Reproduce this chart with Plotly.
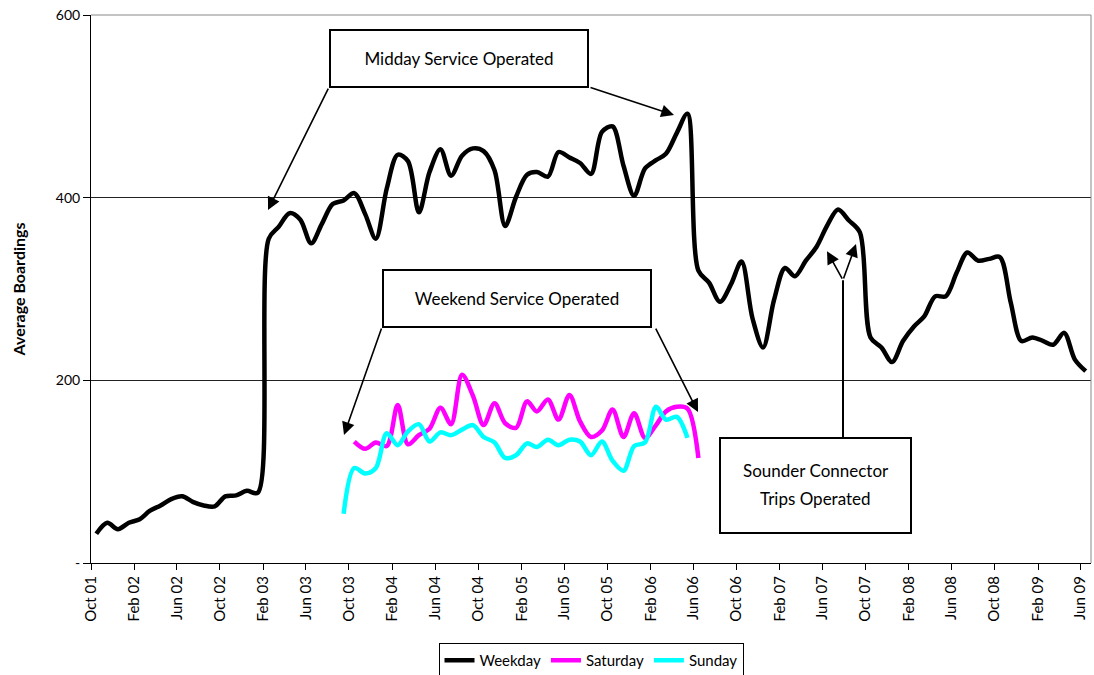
import pandas as pd
import plotly.graph_objects as go

# Monthly average boardings, Oct 2001 - Jun 2009
first_month = "2001-10-01"
n_months = 93

weekday = [32, 44, 37, 44, 48, 57, 63, 70, 73, 67, 63, 62,
           73, 74, 79, 77, 355, 368, 383, 376, 350, 371, 393, 397,
           405, 382, 355, 410, 447, 440, 384, 428, 453, 424, 446, 454,
           451, 430, 369, 401, 425, 428, 423, 450, 444, 438, 426, 472,
           478, 435, 402, 432, 441, 448, 471, 492, 320, 307, 286, 305,
           330, 268, 236, 288, 323, 314, 331, 346, 370, 387, 375, 362,
           247, 236, 220, 243, 259, 270, 292, 292, 318, 340, 331, 333,
           335, 285, 243, 247, 243, 239, 252, 223, 210]

saturday_start = 24  # Oct 2003
saturday = [133, 125, 132, 128, 173, 130, 140, 147, 170, 152, 206, 183,
            151, 175, 153, 148, 177, 166, 179, 157, 184, 155, 138, 145,
            168, 138, 164, 137, 151, 166, 171, 169, 115]

sunday_start = 23  # Sep 2003
sunday = [54, 104, 98, 104, 142, 129, 144, 152, 133, 143, 140, 146,
          151, 138, 132, 115, 118, 131, 127, 135, 129, 135, 133, 118,
          133, 112, 101, 128, 132, 171, 157, 160, 137]

y_tickvals = [0, 200, 400, 600]
y_ticktext = ["-", "200", "400", "600"]

# points sit in the middle of each month
months = pd.date_range(first_month, periods=n_months, freq="MS") + pd.Timedelta(days=15)


def pad(values, start):
    out = [None] * n_months
    out[start:start + len(values)] = values
    return out


FONT = "Lato"
fig = go.Figure()
series = [
    ("Weekday", weekday, "#000000"),
    ("Saturday", pad(saturday, saturday_start), "#FF00FF"),
    ("Sunday", pad(sunday, sunday_start), "#00FFFF"),
]
for name, vals, color in series:
    fig.add_trace(go.Scatter(
        x=months, y=vals, name=name, mode="lines",
        line=dict(color=color, width=4.5, shape="spline", smoothing=0.9),
        connectgaps=False,
    ))

fig.update_layout(
    width=1094, height=675,
    margin=dict(l=91, r=3, t=15, b=112, autoexpand=False),
    paper_bgcolor="white", plot_bgcolor="white",
    font=dict(family=FONT, size=14, color="black"),
    showlegend=True,
    legend=dict(
        orientation="h", x=0.5, xanchor="center", y=-0.146, yanchor="top",
        bordercolor="black", borderwidth=1, font=dict(size=15),
        itemwidth=30, tracegroupgap=0,
    ),
)

fig.update_xaxes(
    type="date",
    range=["2001-10-01", "2009-07-01"],
    tick0="2001-10-01", dtick="M4", tickformat="%b %y",
    tickangle=-90, ticks="outside", ticklen=6, tickcolor="black",
    showline=True, linecolor="black", linewidth=1,
    showgrid=False, zeroline=False,
    tickfont=dict(size=15),
)
fig.update_yaxes(
    range=[0, 600], tickvals=y_tickvals, ticktext=y_ticktext,
    ticks="outside", ticklen=7, tickcolor="black",
    showline=True, linecolor="black", linewidth=1,
    showgrid=True, gridcolor="#222222", gridwidth=1, zeroline=False,
    tickfont=dict(size=14),
    title=dict(text="<b>Average Boardings</b>", font=dict(size=16), standoff=26),
)

# plot-area frame on the top and right
fig.add_shape(type="line", xref="paper", yref="paper", x0=0, x1=1, y0=1, y1=1,
              line=dict(color="#888888", width=1))
fig.add_shape(type="line", xref="paper", yref="paper", x0=1, x1=1, y0=0, y1=1,
              line=dict(color="#888888", width=1))

box_font = dict(family=FONT, size=17, color="black")


def label_box(text, x, y, w, h):
    fig.add_annotation(
        text=text, xref="paper", yref="paper", x=x, y=y,
        xanchor="center", yanchor="middle", showarrow=False,
        width=w, height=h, align="center", valign="middle",
        bgcolor="white", bordercolor="black", borderwidth=2, borderpad=0,
        font=box_font,
    )


def label_text(text, x, y):
    fig.add_annotation(
        text=text, xref="paper", yref="paper", x=x, y=y,
        xanchor="center", yanchor="middle", showarrow=False, font=box_font,
    )


def pointer(x, y, ax, ay):
    fig.add_annotation(
        text="", xref="paper", yref="paper", x=x, y=y, ax=ax, ay=ay,
        showarrow=True, arrowhead=2, arrowsize=1.6, arrowwidth=1.6,
        arrowcolor="black", standoff=0, startstandoff=0,
    )


label_box("Midday Service Operated", 0.3675, 0.9215, 256, 55)
pointer(0.177, 0.644, 61, -123)
pointer(0.583, 0.8175, -85, -28)

label_box("Weekend Service Operated", 0.426, 0.4828, 266, 55)
pointer(0.253, 0.2336, 38, -108)
pointer(0.607, 0.2755, -43, -85)

label_box("", 0.7245, 0.1414, 189, 93)
label_text("Sounder Connector", 0.7245, 0.1697)
label_text("Trips Operated", 0.7245, 0.1186)
fig.add_shape(type="line", xref="paper", yref="paper",
              x0=0.752, x1=0.752, y0=0.23, y1=0.516,
              line=dict(color="black", width=2))
pointer(0.736, 0.569, 16, 29)
pointer(0.765, 0.582, -13, 36)

fig.write_html("out.html")
